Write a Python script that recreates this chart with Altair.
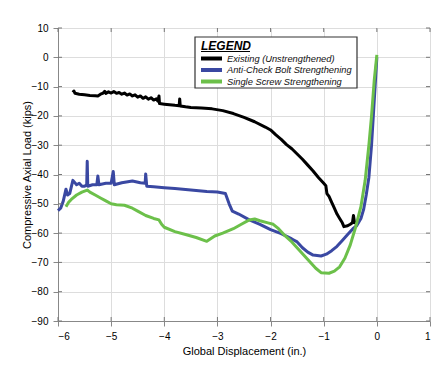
import altair as alt
import pandas as pd

# ---- data ----
series_names = ["Existing (Unstrengthened)", "Anti-Check Bolt Strengthening", "Single Screw Strengthening"]
series_colors = ["#000000", "#3a48a2", "#6cc04a"]

existing_x = [-5.72, -5.70, -5.68, -5.6, -5.5, -5.4, -5.3, -5.25, -5.2, -5.15, -5.12, -5.1, -5.05, -5.0, -4.95,
              -4.9, -4.85, -4.8, -4.75, -4.7, -4.65, -4.6, -4.55, -4.5, -4.45, -4.4, -4.35, -4.3, -4.25, -4.2,
              -4.15, -4.12, -4.1, -4.09, -4.0, -3.9, -3.8, -3.72, -3.71, -3.70, -3.6, -3.5, -3.3, -3.1, -2.9,
              -2.7, -2.5, -2.3, -2.1, -2.0, -1.9, -1.8, -1.7, -1.6, -1.5, -1.4, -1.3, -1.2, -1.1, -1.0, -0.96,
              -0.94, -0.9, -0.85, -0.8, -0.75, -0.7, -0.65, -0.62, -0.55, -0.5, -0.46, -0.44, -0.42, -0.38]
existing_y = [-12.0, -11.5, -12.3, -12.6, -12.8, -13.0, -13.1, -13.2, -12.6, -12.2, -11.6, -12.3, -11.8, -12.2, -11.7,
              -12.3, -12.0, -12.6, -12.2, -12.9, -12.5, -13.2, -12.8, -13.6, -13.2, -14.0, -13.5, -14.3, -13.8, -14.6,
              -14.2, -15.0, -13.2, -15.8, -16.0, -16.2, -16.4, -16.5, -14.2, -16.6, -16.9, -17.1, -17.3, -17.6, -18.2,
              -19.2, -20.5, -22.0, -23.8, -24.8, -26.5, -28.0, -29.8, -31.2, -33.0, -34.8, -36.8, -38.8, -41.0, -43.0, -43.8,
              -46.5, -47.5, -49.5, -51.5, -53.5, -55.0, -56.5, -57.8, -57.5, -57.0, -56.5, -54.0, -56.5, -56.3]

anticheck_x = [-6.0, -5.95, -5.9, -5.85, -5.82, -5.78, -5.72, -5.65, -5.6, -5.55, -5.5, -5.46, -5.45, -5.44, -5.35,
               -5.27, -5.25, -5.23, -5.1, -5.0, -4.96, -4.94, -4.8, -4.6, -4.45, -4.36, -4.35, -4.33, -4.2, -4.0,
               -3.8, -3.5, -3.2, -3.0, -2.85, -2.78, -2.72, -2.6, -2.4, -2.2, -2.0, -1.8, -1.6, -1.5, -1.4, -1.3,
               -1.2, -1.05, -0.95, -0.85, -0.75, -0.65, -0.55, -0.45, -0.38, -0.3, -0.25, -0.2, -0.15, -0.1, -0.05, 0.0]
anticheck_y = [-52.3, -51.5, -49.0, -45.0, -47.0, -46.5, -42.0, -43.5, -43.0, -44.0, -44.0, -43.5, -35.5, -44.0, -43.5,
               -43.5, -40.5, -43.5, -43.0, -43.0, -39.0, -43.5, -42.8, -42.2, -42.8, -43.0, -39.8, -44.0, -44.2, -44.5,
               -44.8, -45.3, -45.8, -46.0, -46.5, -50.0, -52.5, -53.5, -55.5, -57.0, -58.8, -60.2, -62.0, -63.0, -65.0, -66.5,
               -67.5, -67.8, -67.2, -66.0, -64.5, -62.5, -60.5, -58.5, -57.5, -55.0, -52.0, -47.0, -41.0, -30.0, -15.0, 0.0]

screw_x = [-5.85, -5.8, -5.75, -5.65, -5.55, -5.45, -5.4, -5.3, -5.2, -5.1, -5.0, -4.9, -4.75, -4.6, -4.5, -4.35,
           -4.2, -4.1, -4.05, -4.0, -3.8, -3.6, -3.4, -3.2, -3.05, -2.9, -2.7, -2.55, -2.4, -2.3, -2.2, -2.05,
           -1.95, -1.85, -1.75, -1.6, -1.45, -1.3, -1.15, -1.05, -0.9, -0.8, -0.7, -0.6, -0.5, -0.4, -0.3, -0.22,
           -0.15, -0.1, -0.05, 0.0]
screw_y = [-51.0, -49.5, -48.5, -47.0, -46.0, -45.3, -46.0, -47.0, -48.0, -49.0, -50.0, -50.3, -50.5, -51.5, -52.5, -54.0,
           -55.0, -55.5, -57.0, -58.0, -59.5, -60.5, -61.5, -62.8, -61.0, -60.0, -58.5, -57.0, -55.5, -55.2, -55.8, -56.5,
           -57.0, -58.5, -60.5, -63.0, -66.0, -69.0, -72.0, -73.5, -73.7, -73.0, -71.5, -68.5, -64.0, -58.0, -51.0, -42.0,
           -30.0, -20.0, -8.0, 0.8]

x_ticks = [-6, -5, -4, -3, -2, -1, 0, 1]
y_ticks = [10, 0, -10, -20, -30, -40, -50, -60, -70, -80, -90]
legend_title = "LEGEND"

rows = []
for name, xs, ys in zip(series_names, [existing_x, anticheck_x, screw_x], [existing_y, anticheck_y, screw_y]):
    for i, (xv, yv) in enumerate(zip(xs, ys)):
        rows.append({"series": name, "x": xv, "y": yv, "i": i})
df = pd.DataFrame(rows)

FONT = "Liberation Sans"
W, H = 372, 293
xscale = alt.Scale(domain=[-6, 1], nice=False)
yscale = alt.Scale(domain=[-90, 10], nice=False)
x_axis = alt.Axis(values=x_ticks, title="Global Displacement (in.)", format="d",
                  labelPadding=5, titlePadding=4, titleFontWeight="normal")
y_axis = alt.Axis(values=y_ticks, title="Compressive Axial Load (kips)", format="d",
                  labelPadding=5, titleX=-31, titleY=146.5, titleAngle=-90,
                  titleAlign="center", titleBaseline="middle", titleFontWeight="normal")

lines = alt.Chart(df).mark_line(strokeWidth=3, strokeJoin="round").encode(
    x=alt.X("x:Q", scale=xscale, axis=x_axis),
    y=alt.Y("y:Q", scale=yscale, axis=y_axis),
    color=alt.Color("series:N", sort=series_names,
                    scale=alt.Scale(domain=series_names, range=series_colors), legend=None),
    order=alt.Order("i:Q"),
    detail="series:N",
)

# inside ticks on all four sides (MATLAB box style)
xt = pd.DataFrame({"x": x_ticks})
yt = pd.DataFrame({"y": y_ticks})
tick_col = "#777"
ticks = [
    alt.Chart(xt).mark_rule(color=tick_col, strokeWidth=1).encode(
        x=alt.X("x:Q", scale=xscale, axis=x_axis), y=alt.value(H), y2=alt.value(H - 4)),
    alt.Chart(xt).mark_rule(color=tick_col, strokeWidth=1).encode(
        x=alt.X("x:Q", scale=xscale, axis=x_axis), y=alt.value(0), y2=alt.value(4)),
    alt.Chart(yt).mark_rule(color=tick_col, strokeWidth=1).encode(
        y=alt.Y("y:Q", scale=yscale, axis=y_axis), x=alt.value(0), x2=alt.value(4)),
    alt.Chart(yt).mark_rule(color=tick_col, strokeWidth=1).encode(
        y=alt.Y("y:Q", scale=yscale, axis=y_axis), x=alt.value(W), x2=alt.value(W - 4)),
]

# ---- hand-made legend box (MATLAB style) ----
one = pd.DataFrame({"k": [0]})
legend_layers = [
    alt.Chart(one).mark_rect(fill="white", stroke="#333", strokeWidth=1.2).encode(
        x=alt.value(137), x2=alt.value(299), y=alt.value(9), y2=alt.value(60)),
    alt.Chart(one).mark_text(text=legend_title, font=FONT, fontSize=12, fontStyle="italic",
                             fontWeight="bold", align="left", baseline="alphabetic", color="#000").encode(
        x=alt.value(143), y=alt.value(21.5)),
    alt.Chart(one).mark_rule(color="#000", strokeWidth=1.2).encode(
        x=alt.value(143), x2=alt.value(192), y=alt.value(23.5)),
]
row_y = [30.5, 42, 53.5]
for name, col, ry in zip(series_names, series_colors, row_y):
    legend_layers.append(
        alt.Chart(one).mark_rule(color=col, strokeWidth=4).encode(
            x=alt.value(143), x2=alt.value(164), y=alt.value(ry)))
    legend_layers.append(
        alt.Chart(one).mark_text(text=name, font=FONT, fontSize=9.3, fontStyle="italic",
                                 align="left", baseline="middle", color="#111").encode(
            x=alt.value(169), y=alt.value(ry)))

chart = alt.layer(lines, *ticks, *legend_layers).properties(
    width=W, height=H,
    autosize=alt.AutoSizeParams(type="none"),
    padding={"left": 50, "top": 20, "right": 9, "bottom": 37},
).configure_view(stroke="#555", strokeWidth=1.2).configure_axis(
    grid=False, ticks=False, domain=False,
    labelFont=FONT, labelFontSize=12, labelColor="#222",
    titleFont=FONT, titleFontSize=13, titleFontWeight="normal", titleColor="#222",
).configure(background="white")

chart.save("out.html", embed_options={"renderer": "svg", "actions": False})
